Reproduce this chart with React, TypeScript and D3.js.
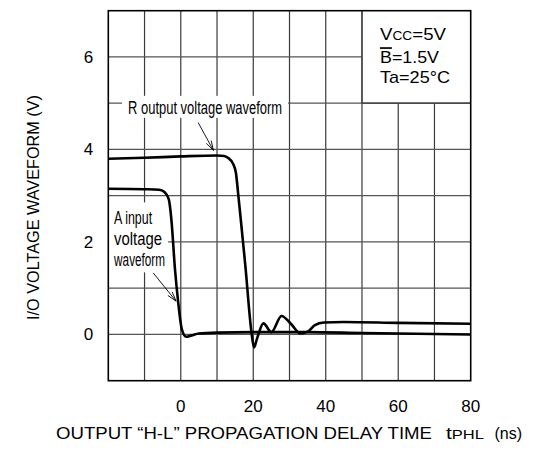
import React from "react";
import * as d3 from "d3";

const W = 536;
const H = 455;
const margin = { t: 10.7, r: 65.3, b: 74.3, l: 108.3 };

// axes
const xDomain = [-20, 80];
const yDomain = [-1, 7];
const xTickLabels = [0, 20, 40, 60, 80];
const yTickLabels = [0, 2, 4, 6];

// R output voltage waveform (ns, V)
const outTime = [-20, -10, 0, 10, 12, 13, 14.5, 15.2, 15.9, 16.6, 17.8, 19.5, 20.2, 21, 22.8, 25, 27.8, 30.5, 33, 35, 37, 39.5, 45, 60, 80];
const outVolt = [3.8, 3.82, 3.85, 3.87, 3.86, 3.82, 3.68, 3.5, 2.99, 2.45, 1.5, 0.05, -0.28, -0.1, 0.24, 0.05, 0.4, 0.22, 0.02, 0.06, 0.2, 0.26, 0.27, 0.25, 0.23];

// A input voltage waveform (ns, V)
const inTime = [-20, -10, -6, -4.5, -3.3, -2.6, -1.6, -0.7, 0.3, 1.5, 3, 5, 10, 20, 35, 50, 80];
const inVolt = [3.15, 3.14, 3.13, 3.08, 2.92, 2.49, 1.41, 0.69, 0.11, -0.05, -0.02, 0.02, 0.04, 0.05, 0.05, 0.03, 0.0];

// conditions box corner (ns, V)
const boxCorner = [50, 5];

const FONT = "'Liberation Sans', Arial, Helvetica, sans-serif";

const Arrow = ({ x1, y1, x2, y2 }) => {
  const a = Math.atan2(y2 - y1, x2 - x1);
  const len = 10;
  const spread = 0.28;
  const p1 = [x2 - len * Math.cos(a - spread), y2 - len * Math.sin(a - spread)];
  const p2 = [x2 - len * Math.cos(a + spread), y2 - len * Math.sin(a + spread)];
  return (
    <g stroke="#000" strokeWidth={0.9} fill="none">
      <line x1={x1} y1={y1} x2={x2} y2={y2} />
      <path d={`M${p1[0]},${p1[1]}L${x2},${y2}L${p2[0]},${p2[1]}`} />
    </g>
  );
};

export default function App() {
  const iw = W - margin.l - margin.r;
  const ih = H - margin.t - margin.b;
  const x = d3.scaleLinear().domain(xDomain).range([0, iw]);
  const y = d3.scaleLinear().domain(yDomain).range([ih, 0]);

  const line = d3
    .line<[number, number]>()
    .x((d) => x(d[0]))
    .y((d) => y(d[1]))
    .curve(d3.curveMonotoneX);

  const outPts = outTime.map((t, i) => [t, outVolt[i]] as [number, number]);
  const inPts = inTime.map((t, i) => [t, inVolt[i]] as [number, number]);

  const bx = x(boxCorner[0]);
  const by = y(boxCorner[1]);

  const vGrid = x.ticks(10).filter((d) => d > xDomain[0] && d < xDomain[1]);
  const hGrid = y.ticks(8).filter((d) => d > yDomain[0] && d < yDomain[1]);

  // annotation anchors in data units
  const rLabel = { t: 6.7, v: 4.9 };
  const aLabel = { t: -18.4, v: 2.38 };
  const rArrow = [4.8, 4.58, 9.0, 3.98];
  const aArrow = [-7.6, 1.33, -1.3, 0.72];

  return (
    <svg
      width={W}
      height={H}
      style={{ position: "absolute", left: 0, top: 0, background: "#fff" }}
      fontFamily={FONT}
    >
      <g transform={`translate(${margin.l},${margin.t})`}>
        {/* grid */}
        {vGrid.map((d) => (
          <line
            key={"v" + d}
            x1={x(d)}
            x2={x(d)}
            y1={x(d) > bx ? by : 0}
            y2={ih}
            stroke="#3a3a3a"
            strokeWidth={1.2}
          />
        ))}
        {hGrid.map((d) => (
          <line
            key={"h" + d}
            x1={0}
            x2={y(d) < by ? bx : iw}
            y1={y(d)}
            y2={y(d)}
            stroke="#555"
            strokeWidth={1.3}
          />
        ))}
        {/* conditions box */}
        <path d={`M${bx},0V${by}H${iw}`} fill="none" stroke="#3a3a3a" strokeWidth={1.2} />

        {/* label backgrounds */}
        <rect x={x(rLabel.t) - 83} y={y(rLabel.v) - 12} width={166} height={22} fill="#fff" />
        <rect x={0} y={y(aLabel.v) - 22} width={x(aLabel.t) + 54} height={70} fill="#fff" />

        {/* border */}
        <rect x={0} y={0} width={iw} height={ih} fill="none" stroke="#000" strokeWidth={1.6} />

        {/* waveforms */}
        <path d={line(inPts) ?? ""} fill="none" stroke="#000" strokeWidth={2.6} strokeLinejoin="round" />
        <path d={line(outPts) ?? ""} fill="none" stroke="#000" strokeWidth={2.6} strokeLinejoin="round" />

        {/* annotations */}
        <Arrow x1={x(rArrow[0])} y1={y(rArrow[1])} x2={x(rArrow[2])} y2={y(rArrow[3])} />
        <Arrow x1={x(aArrow[0])} y1={y(aArrow[1])} x2={x(aArrow[2])} y2={y(aArrow[3])} />
        <text
          x={x(rLabel.t)}
          y={y(rLabel.v) + 6}
          textAnchor="middle"
          fontSize={17.5}
          textLength={154}
          lengthAdjust="spacingAndGlyphs"
        >
          R output voltage waveform
        </text>
        {["A input", "voltage", "waveform"].map((s, i) => (
          <text
            key={s}
            x={x(aLabel.t)}
            y={y(aLabel.v) + i * 20.8}
            fontSize={17.5}
            textLength={[38, 48, 51][i]}
            lengthAdjust="spacingAndGlyphs"
          >
            {s}
          </text>
        ))}

        {/* conditions text */}
        <g fontSize={17} fill="#000">
          <text x={bx + 18} y={29.5} textLength={66} lengthAdjust="spacingAndGlyphs">
            V<tspan fontSize={12.5}>CC</tspan>=5V
          </text>
          <text x={bx + 18} y={52.5} textLength={59} lengthAdjust="spacingAndGlyphs">
            <tspan style={{ textDecoration: "overline" }}>B</tspan>=1.5V
          </text>
          <text x={bx + 18} y={72.5} textLength={70} lengthAdjust="spacingAndGlyphs">
            Ta=25°C
          </text>
        </g>

        {/* tick labels */}
        {xTickLabels.map((d) => (
          <text key={"xt" + d} x={x(d)} y={ih + 31.5} textAnchor="middle" fontSize={17}>
            {d}
          </text>
        ))}
        {yTickLabels.map((d) => (
          <text key={"yt" + d} x={-15} y={y(d) + 6} textAnchor="end" fontSize={17}>
            {d}
          </text>
        ))}
      </g>

      {/* axis titles */}
      <text x={56} y={438.7} fontSize={16} textLength={376} lengthAdjust="spacingAndGlyphs">
        OUTPUT “H-L” PROPAGATION DELAY TIME
      </text>
      <text x={446} y={438.7} fontSize={16.5} textLength={38} lengthAdjust="spacingAndGlyphs">
        t<tspan fontSize={13}>PHL</tspan>
      </text>
      <text x={522} y={438.7} fontSize={16} textAnchor="end">
        (ns)
      </text>
      <text
        transform={`translate(39,207.5) rotate(-90)`}
        textAnchor="middle"
        fontSize={16}
        textLength={225}
        lengthAdjust="spacingAndGlyphs"
      >
        I/O VOLTAGE WAVEFORM (V)
      </text>
    </svg>
  );
}
